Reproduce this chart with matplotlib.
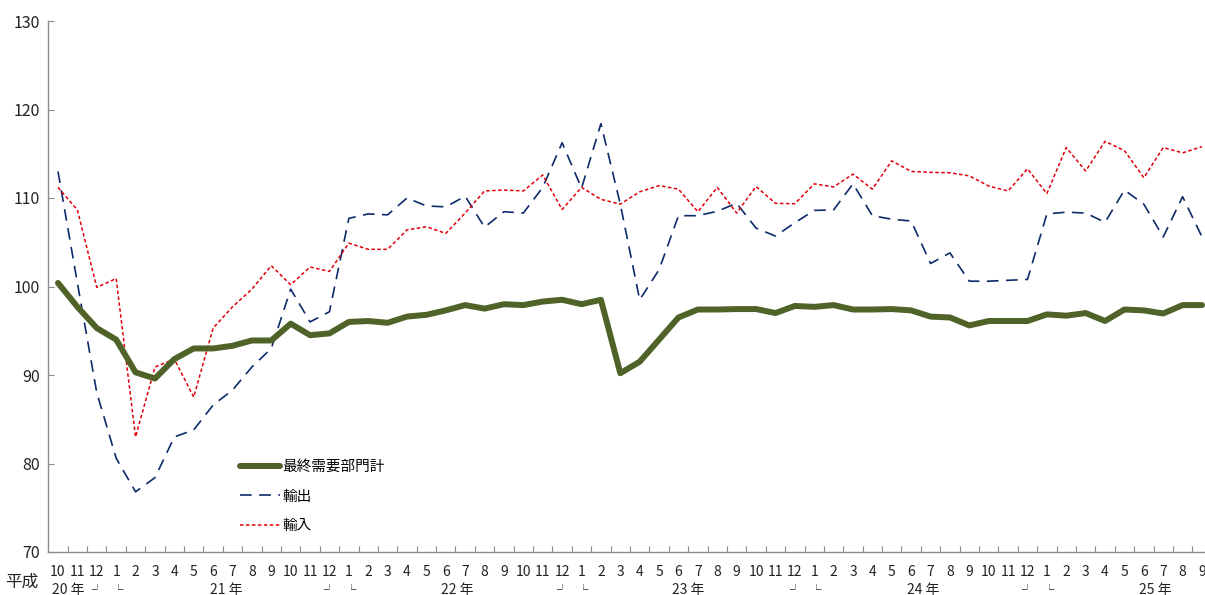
import matplotlib
matplotlib.use("Agg")
import matplotlib.pyplot as plt
import matplotlib.transforms as mtrans

plt.rcParams['font.family'] = ['Noto Sans CJK JP', 'DejaVu Sans']

months = ["10", "11", "12", "1", "2", "3", "4", "5", "6", "7", "8", "9",
          "10", "11", "12", "1", "2", "3", "4", "5", "6", "7", "8", "9",
          "10", "11", "12", "1", "2", "3", "4", "5", "6", "7", "8", "9",
          "10", "11", "12", "1", "2", "3", "4", "5", "6", "7", "8", "9",
          "10", "11", "12", "1", "2", "3", "4", "5", "6", "7", "8", "9"]
year_labels = ["20 年", "21 年", "22 年", "23 年", "24 年", "25 年"]
year_label_pos = [0.55, 8.7, 20.6, 32.5, 44.6, 56.6]
era_label = "平成"

final_demand = [100.4, 97.7, 95.3, 94.0, 90.3, 89.6, 91.8, 93.0, 93.0, 93.3, 93.9, 93.9,
                95.8, 94.5, 94.7, 96.0, 96.1, 95.9, 96.6, 96.8, 97.3, 97.9, 97.5, 98.0,
                97.9, 98.3, 98.5, 98.0, 98.5, 90.2, 91.5, 94.0, 96.5, 97.4, 97.4, 97.45,
                97.45, 97.0, 97.8, 97.7, 97.9, 97.4, 97.4, 97.45, 97.3, 96.6, 96.5, 95.6,
                96.1, 96.1, 96.1, 96.85, 96.7, 97.0, 96.1, 97.4, 97.3, 96.95, 97.9, 97.9]
exports = [113.0, 100.4, 88.0, 80.6, 76.8, 78.4, 83.0, 83.8, 86.6, 88.3, 90.9, 93.0,
           99.7, 96.0, 97.15, 107.7, 108.2, 108.1, 110.0, 109.1, 109.0, 110.2, 106.7, 108.45,
           108.3, 111.2, 116.25, 111.1, 118.4, 109.3, 98.5, 101.9, 108.0, 108.0, 108.5, 109.4,
           106.6, 105.7, 107.2, 108.6, 108.65, 111.6, 108.0, 107.6, 107.4, 102.6, 103.8, 100.6,
           100.6, 100.7, 100.8, 108.2, 108.4, 108.3, 107.25, 110.9, 109.3, 105.6, 110.15, 105.6]
imports = [111.2, 108.65, 99.9, 100.9, 83.0, 90.9, 91.8, 87.5, 95.3, 97.7, 99.7, 102.35,
           100.2, 102.2, 101.7, 104.9, 104.2, 104.2, 106.4, 106.75, 106.0, 108.3, 110.8, 110.9,
           110.8, 112.6, 108.7, 111.2, 109.85, 109.3, 110.7, 111.4, 111.0, 108.45, 111.2, 108.3,
           111.3, 109.4, 109.35, 111.6, 111.25, 112.7, 111.0, 114.2, 113.0, 112.9, 112.85, 112.5,
           111.35, 110.8, 113.3, 110.5, 115.7, 113.05, 116.4, 115.35, 112.3, 115.7, 115.1, 115.8]
series_names = ["最終需要部門計", "輸出", "輸入"]
y_ticks = [70, 80, 90, 100, 110, 120, 130]

W, H = 1205, 595
fig = plt.figure(figsize=(W / 100, H / 100), dpi=100)
left_px, right_px = 48.3, 48.3 + 60 * 19.39
top_px, bottom_px = 21, 552
ax = fig.add_axes([left_px / W, 1 - bottom_px / H, (right_px - left_px) / W, (bottom_px - top_px) / H])

x = list(range(len(months)))
ax.plot(x, final_demand, color="#4F6228", lw=4.3, solid_capstyle="round",
        solid_joinstyle="round", label=series_names[0], zorder=3)
ax.plot(x, exports, color="#0D2A6B", lw=1.2, dashes=(7, 4.5), label=series_names[1], zorder=2)
ax.plot(x, imports, color="#E0000B", lw=1.1, dashes=(2.3, 1.6), label=series_names[2], zorder=2)

ax.set_xlim(-0.5, len(months) - 0.5)
ax.set_ylim(70, 130)
ax.set_yticks(y_ticks)
ax.set_yticklabels([str(v) for v in y_ticks], fontsize=11.5, color="#222222")
ax.set_xticks([i - 0.5 for i in range(1, len(months))])
ax.set_xticklabels([])

for s in ["top", "right"]:
    ax.spines[s].set_visible(False)
for s in ["left", "bottom"]:
    ax.spines[s].set_color("#8C8C8C")
    ax.spines[s].set_linewidth(1.0)
ax.tick_params(axis="x", direction="in", length=4, color="#8C8C8C")
ax.tick_params(axis="y", direction="in", length=4, color="#8C8C8C", pad=6)

trans = mtrans.blended_transform_factory(ax.transData, fig.transFigure)
for i, m in enumerate(months):
    ax.text(i, 1 - 572 / H, m, transform=trans, ha="center", va="center",
            fontsize=10, color="#222222", clip_on=False)
    if m == "12":
        ax.text(i, 1 - 589 / H, "┘", transform=trans, ha="center", va="center",
                fontsize=7.5, color="#222222", clip_on=False)
    if m == "1":
        ax.text(i + 0.1, 1 - 589 / H, "└", transform=trans, ha="center", va="center",
                fontsize=7.5, color="#222222", clip_on=False)
for lbl, pos in zip(year_labels, year_label_pos):
    ax.text(pos, 1 - 590 / H, lbl, transform=trans, ha="center", va="center",
            fontsize=10, color="#222222", clip_on=False)
fig.text(22 / W, 1 - 582 / H, era_label, ha="center", va="center", fontsize=12, color="#222222")

leg = ax.legend(loc="upper left", bbox_to_anchor=(227 / W, 1 - 447 / H),
                bbox_transform=fig.transFigure, frameon=False, fontsize=10.5,
                handlelength=2.7, handletextpad=0.2, labelspacing=1.05)

fig.savefig("out.png", dpi=100)
